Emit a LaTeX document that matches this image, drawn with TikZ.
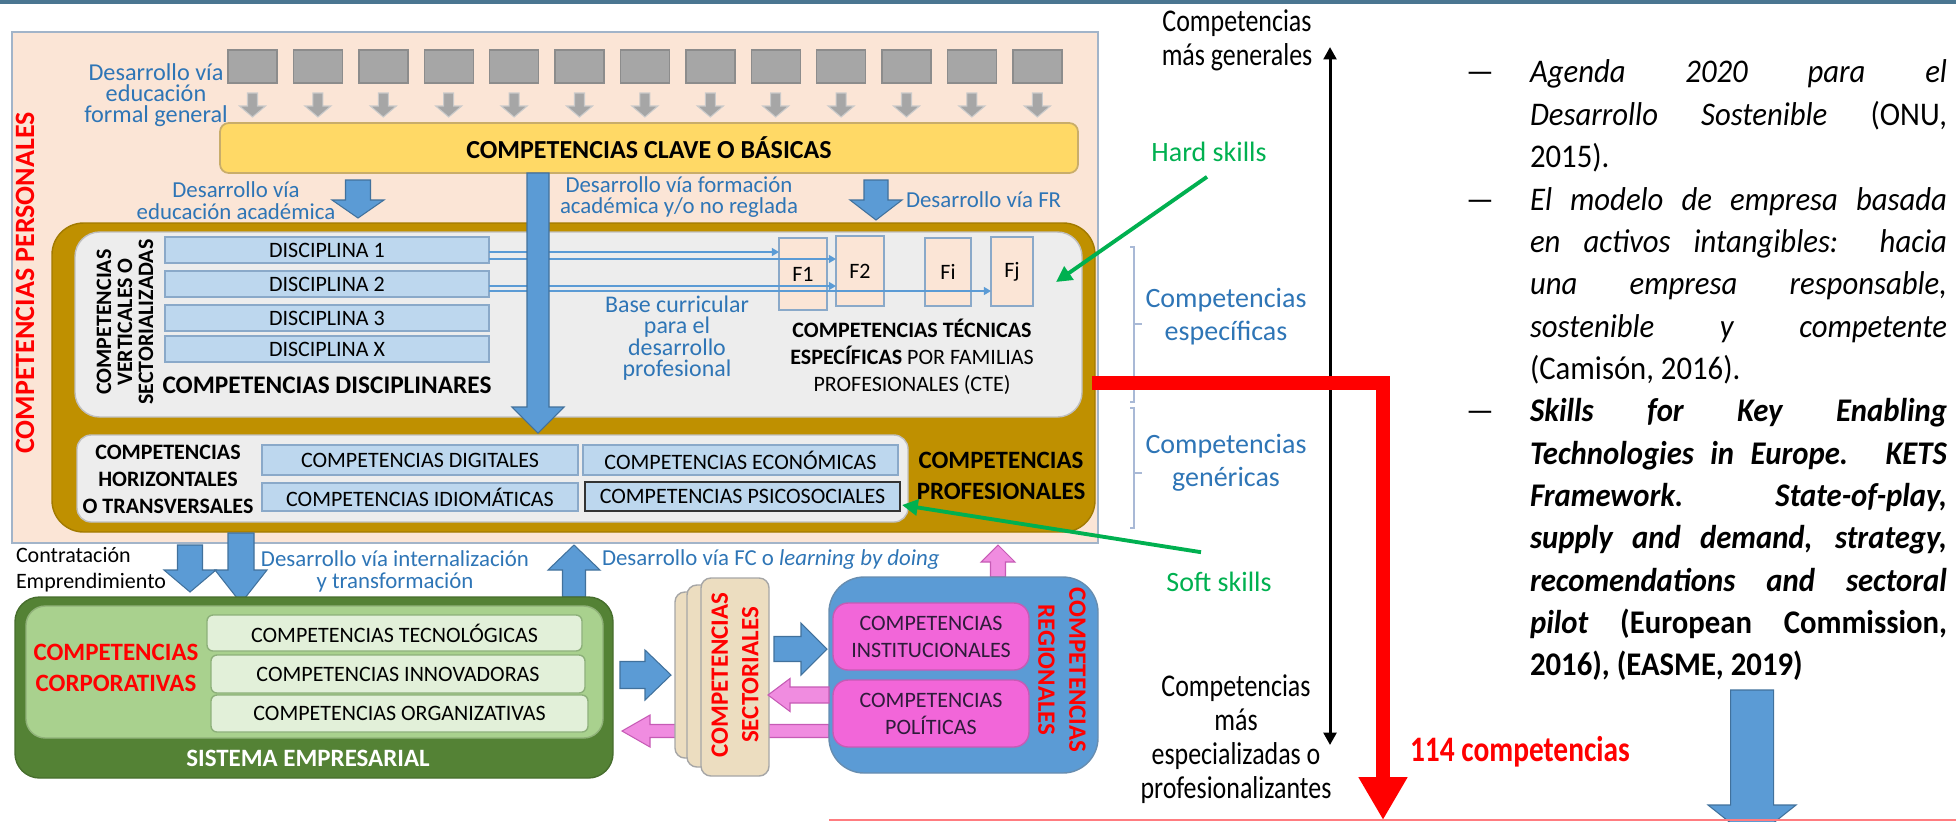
\documentclass[tikz,border=0pt]{standalone}
\usepackage{fontspec}
\setmainfont{Carlito}
\newfontfamily\narrowfont{Carlito}[FakeStretch=0.82]
\newfontfamily\reffont{Carlito}[FakeStretch=0.93]
\usetikzlibrary{calc,arrows.meta,positioning}

\definecolor{header}{HTML}{4A7691}
\definecolor{peach}{HTML}{FBE5D6}
\definecolor{panelline}{HTML}{A2B4C9}
\definecolor{sqgray}{HTML}{A6A6A6}
\definecolor{sqline}{HTML}{8C8C8C}
\definecolor{clavey}{HTML}{FFD966}
\definecolor{clavee}{HTML}{C9AD6A}
\definecolor{arrowb}{HTML}{5B9BD5}
\definecolor{arrowe}{HTML}{41719C}
\definecolor{textb}{HTML}{2E75B6}
\definecolor{oliveband}{HTML}{BF9000}
\definecolor{innergray}{HTML}{EDEDED}
\definecolor{discb}{HTML}{BDD7EE}
\definecolor{disce}{HTML}{8AA9C9}
\definecolor{greenD}{HTML}{548235}
\definecolor{greenM}{HTML}{A9D18E}
\definecolor{greenL}{HTML}{E2F0D9}
\definecolor{greenE}{HTML}{8DB07A}
\definecolor{skillg}{HTML}{00B050}
\definecolor{beige}{HTML}{ECDDC0}
\definecolor{pinkb}{HTML}{F266D9}
\definecolor{pinka}{HTML}{F08CE0}
\definecolor{pinke}{HTML}{C65BB5}
\definecolor{pinktext}{HTML}{2E1B3A}
\definecolor{redt}{HTML}{FF0000}
\definecolor{rulepink}{HTML}{FF7C80}
\definecolor{brackc}{HTML}{A9B9D6}

% block arrows: style, x, y tail, y neck, y tip, half shaft, half head
\newcommand{\colarrow}[7]{%
  \draw[#1] ({#2-#6},#3) -- ({#2+#6},#3) -- ({#2+#6},#4) -- ({#2+#7},#4)
    -- (#2,#5) -- ({#2-#7},#4) -- ({#2-#6},#4) -- cycle;}
% style, y, x tail, x neck, x tip, half shaft, half head
\newcommand{\rowarrow}[7]{%
  \draw[#1] (#3,{#2-#6}) -- (#4,{#2-#6}) -- (#4,{#2-#7}) -- (#5,#2)
    -- (#4,{#2+#7}) -- (#4,{#2+#6}) -- (#3,{#2+#6}) -- cycle;}

\tikzset{
  every node/.style={inner sep=0pt, outer sep=0pt},
  blk/.style={fill=arrowb, draw=arrowe, line width=0.3pt},
  pnk/.style={fill=pinka, draw=pinke, line width=0.3pt},
  gry/.style={fill=sqgray, draw=sqgray!60!white, line width=0.3pt},
  lblue/.style={text=textb, align=center, font=\fontsize{6.5pt}{6.2pt}\selectfont},
  discbox/.style={draw=disce, fill=discb, line width=0.4pt, font=\fontsize{6.26pt}{7pt}\selectfont},
  fambox/.style={draw=disce, fill=peach, line width=0.4pt, font=\fontsize{6.26pt}{7pt}\selectfont},
  corpbox/.style={draw=greenE, fill=greenL, line width=0.4pt, rounded corners=1.7pt, font=\fontsize{6.26pt}{7pt}\selectfont},
  regbox/.style={draw=pinke, fill=pinkb, line width=0.4pt, rounded corners=4.3pt, text=pinktext, align=center, font=\fontsize{6.26pt}{7.7pt}\selectfont},
  stackbox/.style={draw=gray!70, fill=beige, line width=0.4pt, rounded corners=2.8pt},
  boldtxt/.style={align=center, font=\bfseries\fontsize{7.1pt}{8.7pt}\selectfont},
  redtxt/.style={boldtxt, text=redt},
  thinln/.style={draw=arrowb, line width=0.6pt, -{Triangle[length=2pt,width=2.2pt]}},
  skill/.style={text=skillg, font=\fontsize{7.97pt}{9.7pt}\selectfont},
  skillln/.style={draw=skillg, line width=1.1pt, -{Triangle[length=4.5pt,width=4.5pt]}},
  sidetxt/.style={align=center, font=\narrowfont\fontsize{9pt}{9.7pt}\selectfont},
  brk/.style={draw=brackc, line width=0.4pt},
  redln/.style={draw=redt, line width=4pt, line join=miter, -{Triangle[length=12.2pt,width=13.1pt]}},
  scaleax/.style={line width=0.85pt, {Triangle[length=3.5pt,width=3.6pt]}-{Triangle[length=3.5pt,width=3.6pt]}}
}

\begin{document}
\begin{tikzpicture}[x=0.1mm, y=-0.1mm]
  \useasboundingbox (0,0) rectangle (1956,821);
  \fill[header] (0,0) rectangle (1956,4);

  % personal competences
  \node[draw=panelline, fill=peach, line width=0.5pt, minimum width=108.6mm, minimum height=51.1mm] (personal) at (555,287.5) {};
  \node[rotate=90, text=redt, font=\bfseries\fontsize{7.97pt}{8pt}\selectfont] (personaltxt) at (25,283) {COMPETENCIAS PERSONALES};

  \node[lblue, font=\fontsize{6.9pt}{6.0pt}\selectfont] (formal) at (156,95) {Desarrollo vía\\educación\\formal general};
  \foreach \i in {0,...,12}{
    \pgfmathsetmacro{\sx}{228+65.4*\i}
    \filldraw[fill=sqgray, draw=sqline, line width=0.4pt] (\sx,50) rectangle ({\sx+49},83);
    \colarrow{gry}{\sx+24.5}{93}{106}{117}{5}{13}
  }
  \node[fill=clavey, draw=clavee, line width=0.5pt, rounded corners=2.5pt, minimum width=85.8mm, minimum height=5mm,
        font=\bfseries\fontsize{7.4pt}{8pt}\selectfont] (clave) at (649,148) {COMPETENCIAS CLAVE O BÁSICAS};

  \node[lblue] (academica) at (236,201) {Desarrollo vía\\educación académica};
  \node[lblue] (noreglada) at (679,197) {Desarrollo vía formación\\académica y/o no reglada};
  \node[lblue, anchor=west] (fr) at (906,200) {Desarrollo vía FR};
  \colarrow{blk}{358}{180}{200}{218}{12.5}{26}
  \colarrow{blk}{876}{180}{200}{220}{12}{26}

  % professional competences
  \node[fill=oliveband, draw=oliveband!85!black, line width=0.4pt, rounded corners=9pt, minimum width=104.3mm, minimum height=30.9mm] (profesional) at (573.5,377.5) {};
  \node[fill=innergray, draw=gray!50, line width=0.4pt, rounded corners=7pt, minimum width=100.7mm, minimum height=18.5mm] (disciplinar) at (578.5,324.5) {};
  \node[rotate=90, align=center, font=\bfseries\fontsize{6.26pt}{6.0pt}\selectfont] (vertical) at (125,322) {COMPETENCIAS\\VERTICALES O\\SECTORIALIZADAS};
  \foreach \nm/\y/\t in {d1/250/1, d2/284/2, d3/318/3, d4/349/X}
    \node[discbox, minimum width=32.4mm, minimum height=2.6mm] (\nm) at (327,\y) {DISCIPLINA \t};
  \node[font=\bfseries\fontsize{7.2pt}{8pt}\selectfont] (disctxt) at (327,385) {COMPETENCIAS DISCIPLINARES};

  \foreach \nm/\x/\y/\w/\h/\t in {f1/803/274/4.8/7.2/F1, f2/860/271/4.8/7.0/F2, fi/948/272/4.6/6.8/Fi, fj/1012/271.5/4.2/6.9/Fj}
    \node[fambox, minimum width=\w mm, minimum height=\h mm] (\nm) at (\x,\y) {\t};
  \coordinate (l1) at ($(d1.east)+(0,2)$);
  \coordinate (l2) at ($(d1.east)+(0,9)$);
  \coordinate (l3) at ($(d2.east)+(0,2)$);
  \coordinate (l4) at ($(d2.east)+(0,7)$);
  \draw[thinln] (l1) -- (l1 -| f1.west);
  \draw[thinln] (l2) -- (l2 -| f2.west);
  \draw[thinln] (l3) -- (l3 -| f2.west);
  \draw[thinln] (l4) -- (l4 -| fj.west);

  \node[lblue, font=\fontsize{6.8pt}{6.1pt}\selectfont] (base) at (677,338) {Base curricular\\para el\\desarrollo\\profesional};
  \node[align=center, font=\fontsize{6.26pt}{7.7pt}\selectfont] (cte) at (912,357)
    {\textbf{COMPETENCIAS TÉCNICAS}\\\textbf{ESPECÍFICAS} POR FAMILIAS\\PROFESIONALES (CTE)};

  \node[fill=innergray, draw=gray!50, line width=0.4pt, rounded corners=4pt, minimum width=83.1mm, minimum height=8.7mm] (transversal) at (492.5,478.5) {};
  \node[align=center, font=\bfseries\fontsize{6.26pt}{7.7pt}\selectfont] (horiz) at (168,479) {COMPETENCIAS\\HORIZONTALES\\O TRANSVERSALES};
  \node[discbox, minimum width=31.6mm, minimum height=3.0mm] (digital) at (420,460) {COMPETENCIAS DIGITALES};
  \node[discbox, minimum width=31.6mm, minimum height=2.8mm] (idioma) at (420,497) {COMPETENCIAS IDIOMÁTICAS};
  \node[discbox, minimum width=31.5mm, minimum height=3.0mm] (economica) at (740.5,460) {COMPETENCIAS ECONÓMICAS};
  \node[discbox, draw=black!80, line width=0.8pt, minimum width=31.5mm, minimum height=2.9mm] (psico) at (742.5,496.5) {COMPETENCIAS PSICOSOCIALES};
  \node[boldtxt] (proftxt) at (1001,476) {COMPETENCIAS\\PROFESIONALES};

  \colarrow{blk}{538}{173}{407}{433}{11}{26}

  % business system
  \node[anchor=west, align=left, font=\fontsize{6.26pt}{7.4pt}\selectfont] (contrata) at (16,570) {Contratación\\Emprendimiento};
  \colarrow{blk}{190}{545}{570}{592}{12.5}{26}
  \colarrow{blk}{241}{533}{570}{603}{13}{26}
  \node[lblue] (interna) at (395,571) {Desarrollo vía internalización\\y transformación};
  \colarrow{blk}{574}{597}{570}{545}{11.5}{26}
  \node[lblue, anchor=west] (doing) at (602,560) {Desarrollo vía FC o \textit{learning by doing}};
  \colarrow{pnk}{998}{577}{562}{545}{7.5}{17}

  \node[fill=greenD, draw=greenD!85!black, line width=0.4pt, rounded corners=7pt, minimum width=59.8mm, minimum height=18.1mm] (empresa) at (314,687.5) {};
  \node[fill=greenM, draw=greenM!85!black, line width=0.4pt, rounded corners=5.5pt, minimum width=57.7mm, minimum height=13.2mm] (corpor) at (314.5,672) {};
  \node[redtxt] (corptxt) at (116,668) {COMPETENCIAS\\CORPORATIVAS};
  \node[corpbox, minimum width=37.5mm, minimum height=3.6mm] (tecno) at (394.5,633) {COMPETENCIAS TECNOLÓGICAS};
  \node[corpbox, minimum width=37.4mm, minimum height=3.8mm] (innova) at (398,674) {COMPETENCIAS INNOVADORAS};
  \node[corpbox, minimum width=37.7mm, minimum height=3.7mm] (organiza) at (399.5,713.5) {COMPETENCIAS ORGANIZATIVAS};
  \node[boldtxt, text=white] (emptxt) at (308,758) {SISTEMA EMPRESARIAL};

  % sectoral and regional
  \rowarrow{pnk}{731}{829}{650}{622}{6.5}{16}
  \rowarrow{blk}{675}{620}{645}{671}{13.5}{25}
  \node[stackbox, minimum width=6.5mm, minimum height=16.6mm] (sect3) at (707.5,675) {};
  \node[stackbox, minimum width=6.3mm, minimum height=18.2mm] (sect2) at (718.5,676) {};
  \node[stackbox, minimum width=6.8mm, minimum height=19.8mm] (sect1) at (735,677) {};
  \node[redtxt, rotate=90] (secttxt) at (735,675) {COMPETENCIAS\\SECTORIALES};
  \rowarrow{blk}{649}{774}{801}{827}{12.5}{26}

  \node[fill=arrowb, draw=arrowe!80, line width=0.4pt, rounded corners=10pt, minimum width=26.9mm, minimum height=19.6mm] (regional) at (963.5,675) {};
  \node[regbox, minimum width=19.6mm, minimum height=6.7mm] (institu) at (931,636.5) {COMPETENCIAS\\INSTITUCIONALES};
  \node[regbox, minimum width=19.6mm, minimum height=6.7mm] (politica) at (931,713.5) {COMPETENCIAS\\POLÍTICAS};
  \rowarrow{pnk}{695}{829}{790}{768}{8}{16.5}
  \node[redtxt, rotate=-90, font=\bfseries\fontsize{7.1pt}{8.8pt}\selectfont] (regtxt) at (1062,670) {COMPETENCIAS\\REGIONALES};

  % scale of competences
  \node[sidetxt] (general) at (1237,40) {Competencias\\más generales};
  \coordinate (axtop) at (1330,47);
  \coordinate (axbot) at (1330,745);
  \draw[scaleax] (axbot) -- (axtop);
  \node[sidetxt, text=textb, font=\fontsize{7.97pt}{9.4pt}\selectfont] (especif) at (1226,317) {Competencias\\específicas};
  \node[sidetxt, text=textb, font=\fontsize{7.97pt}{9.4pt}\selectfont] (generic) at (1226,463) {Competencias\\genéricas};
  \draw[brk] (1130,247) -- (1134,247) -- (1134,402) -- (1130,402);
  \draw[brk] (1134,324) -- (1142,324);
  \draw[brk] (1130,408) -- (1134,408) -- (1134,528) -- (1130,528);
  \draw[brk] (1134,473) -- (1142,473);
  \node[sidetxt] (especial) at (1236,739) {Competencias\\más\\especializadas o\\profesionalizantes};

  \node[skill] (hard) at (1209,152) {Hard skills};
  \node[skill] (soft) at (1219,582) {Soft skills};
  \draw[skillln] ([xshift=-0.2mm, yshift=-1.5mm]hard.south) -- ([xshift=2.3mm, yshift=-1.05mm]fj.east);
  \draw[skillln] ([xshift=-1.8mm, yshift=2mm]soft.north) -- ([xshift=0.2mm, yshift=-0.85mm]psico.east);

  % references
  \node[anchor=north west, align=left, font=\reffont\fontsize{9.4pt}{12.05pt}\selectfont] (refs) at (1466,60) {%
    \makebox[6.4mm][l]{—}\makebox[41.7mm][s]{\itshape Agenda 2020 para el}\\
    \hspace*{6.4mm}\makebox[41.7mm][s]{\textit{Desarrollo Sostenible} (ONU,}\\
    \hspace*{6.4mm}2015).\\
    \makebox[6.4mm][l]{—}\makebox[41.7mm][s]{\itshape El modelo de empresa basada}\\
    \hspace*{6.4mm}\makebox[41.7mm][s]{\itshape en activos intangibles: hacia}\\
    \hspace*{6.4mm}\makebox[41.7mm][s]{\itshape una empresa responsable,}\\
    \hspace*{6.4mm}\makebox[41.7mm][s]{\itshape sostenible y competente}\\
    \hspace*{6.4mm}(Camisón, 2016).\\
    \makebox[6.4mm][l]{—}\makebox[41.7mm][s]{\bfseries\itshape Skills for Key Enabling}\\
    \hspace*{6.4mm}\makebox[41.7mm][s]{\bfseries\itshape Technologies in Europe. KETS}\\
    \hspace*{6.4mm}\makebox[41.7mm][s]{\bfseries\itshape Framework. State-of-play,}\\
    \hspace*{6.4mm}\makebox[41.7mm][s]{\bfseries\itshape supply and demand, strategy,}\\
    \hspace*{6.4mm}\makebox[41.7mm][s]{\bfseries\itshape recomendations and sectoral}\\
    \hspace*{6.4mm}\makebox[41.7mm][s]{\bfseries\textit{pilot} (European Commission,}\\
    \hspace*{6.4mm}\textbf{2016), (EASME, 2019)}};

  % red path and totals
  \coordinate (redstart) at (1092,383);
  \coordinate (redend) at (1383,820);
  \draw[redln] (redstart) -| (redend);
  \node[anchor=west, text=redt, font=\narrowfont\bfseries\fontsize{10.2pt}{11pt}\selectfont] (total) at (1410,752) {114 competencias};
  \colarrow{blk}{1752}{690}{805}{840}{21.5}{44}
  \draw[rulepink, line width=0.5pt] (829,820) -- (1956,820);
\end{tikzpicture}
\end{document}
